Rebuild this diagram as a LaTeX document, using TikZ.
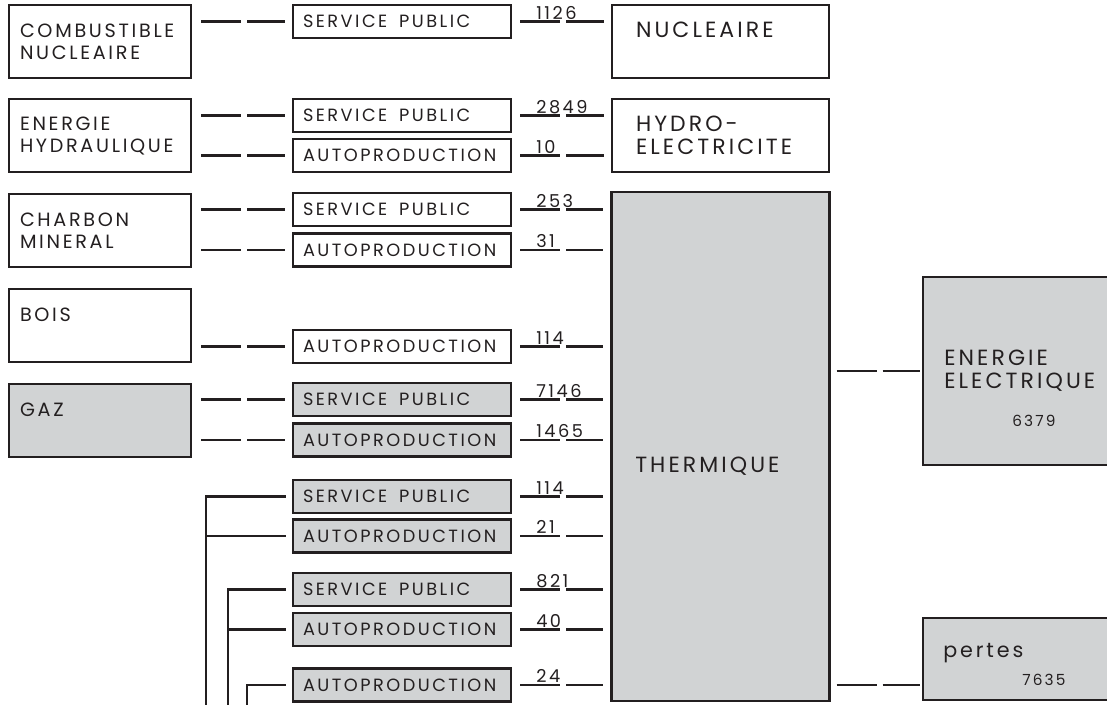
\documentclass[tikz,border=0pt]{standalone}
\usepackage{fontspec}
\setmainfont{Poppins}[LetterSpace=14]
\definecolor{boxgray}{HTML}{D1D3D4}
\definecolor{ink}{HTML}{231F20}
\newcommand\fmid{\fontsize{13.3}{15}\selectfont}
\newcommand\fleft{\fontsize{14.4}{16.5}\selectfont}
\newcommand\fright{\fontsize{16.5}{17.25}\selectfont}
\newcommand\fpert{\fontsize{15.5}{17.25}\selectfont}
\newcommand\fsmall{\fontsize{11.5}{12}\selectfont}
\tikzset{
  bx/.style={draw=ink, line width=1.6pt, rectangle, inner ysep=0pt, text=ink, align=left},
  srcbox/.style={bx, fill=white, minimum width=136.5pt, minimum height=54.75pt, inner xsep=8.25pt, text width=120pt, font=\fleft},
  midbox/.style={bx, fill=white, minimum width=163.5pt, minimum height=24.75pt, inner xsep=7.5pt, text width=148.5pt, font=\fmid},
  resbox/.style={bx, fill=white, minimum width=162.75pt, minimum height=54.75pt, inner xsep=18pt, text width=126.75pt, font=\fright},
  grey/.style={fill=boxgray},
  dcon/.style={draw=ink, line width=1.6pt, dash pattern=on 30pt off 4.5pt},
  wire/.style={draw=ink, line width=1.6pt},
  num/.style={anchor=base west, inner sep=0pt, text=ink, font=\fmid},
  lbl/.style={inner sep=0pt, text=ink, align=left},
}
\begin{document}
\begin{tikzpicture}[x=0.75pt,y=-0.75pt]
\useasboundingbox (0,0) rectangle (1107,704);
\clip (0,0) rectangle (1107,704);

% source boxes
\node[srcbox] (cnuc) at (100,41.5) {COMBUSTIBLE\\NUCLEAIRE};
\node[srcbox] (ehyd) at (100,135.5) {ENERGIE\\HYDRAULIQUE};
\node[srcbox] (cmin) at (100,230.5) {CHARBON\\MINERAL};
\node[srcbox] (bois) at (100,325.5) {BOIS\\\phantom{X}};
\node[srcbox, grey] (gaz) at (100,420.5) {GAZ\\\phantom{X}};

% middle boxes
\node[midbox] (m1) at (402,21.5) {SERVICE~~PUBLIC};
\node[midbox] (m2) at (402,115.5) {SERVICE~~PUBLIC};
\node[midbox] (m3) at (402,155.5) {AUTOPRODUCTION};
\node[midbox] (m4) at (402,209.5) {SERVICE~~PUBLIC};
\node[midbox] (m5) at (402,250) {AUTOPRODUCTION};
\node[midbox] (m6) at (402,346.5) {AUTOPRODUCTION};
\node[midbox, grey] (m7) at (402,399.5) {SERVICE~~PUBLIC};
\node[midbox, grey] (m8) at (402,440) {AUTOPRODUCTION};
\node[midbox, grey] (m9) at (402,496.5) {SERVICE~~PUBLIC};
\node[midbox, grey] (m10) at (402,536) {AUTOPRODUCTION};
\node[midbox, grey] (m11) at (402,589.5) {SERVICE~~PUBLIC};
\node[midbox, grey] (m12) at (402,629.5) {AUTOPRODUCTION};
\node[midbox, grey] (m13) at (402,685) {AUTOPRODUCTION};

% result boxes
\node[resbox] (nuc) at (720.5,41.5) {NUCLEAIRE\\\phantom{X}};
\node[resbox] (hyd) at (720.5,135.5) {HYDRO-\\ELECTRICITE};
\node[bx, grey, minimum width=163.5pt, minimum height=381.75pt] (therm) at (720.5,446.5) {};
\node[lbl, anchor=west, font=\fright] (thermtxt) at (635,466) {THERMIQUE};
\node[bx, grey, minimum width=155.25pt, minimum height=141pt] (elec) at (1026.5,371) {};
\node[lbl, anchor=west, font=\fright] (electxt) at (944,370.5) {ENERGIE\\ELECTRIQUE};
\node[lbl, anchor=base west, font=\fsmall] (elecnum) at (1012,426) {6379};
\node[bx, grey, minimum width=155.25pt, minimum height=61.5pt] (pertes) at (1026.5,659) {};
\node[lbl, anchor=base west, font=\fpert] (pertestxt) at (943,657) {pertes};
\node[lbl, anchor=base west, font=\fsmall] (pertesnum) at (1022,685) {7635};

% source -> middle dashed connectors
\foreach \s/\m in {cnuc/m1, ehyd/m2, ehyd/m3, cmin/m4, cmin/m5, bois/m6, gaz/m7, gaz/m8}
  \draw[dcon, shorten <=6.75pt, shorten >=5.25pt] (\s.east |- \m.west) -- (\m.west);

% middle -> result connectors
\foreach \m/\r in {m1/nuc, m2/hyd, m3/hyd, m4/therm, m5/therm, m6/therm, m7/therm, m8/therm, m9/therm, m10/therm, m11/therm, m12/therm, m13/therm}
  \draw[dcon, shorten <=6pt, shorten >=5.25pt] (\m.east) -- (\m.east -| \r.west);

% numbers
\foreach \m/\v in {m1/1126, m2/2849, m3/10, m4/253, m5/31, m6/114, m7/7146, m8/1465, m9/114, m10/21, m11/821, m12/40, m13/24}
  \node[num] (n\m) at ([shift={(24,-2.5)}]\m.east) {\v};

% thermique -> outputs
\draw[dcon, shorten <=4.5pt, shorten >=1.5pt] (therm.east |- elec.west) -- (elec.west);
\draw[dcon, shorten <=4.5pt, shorten >=1.5pt] (therm.east |- m13.east) -- (pertes.west |- m13.east);

% bottom-left feeder lines
\coordinate (src1) at (206,730);
\coordinate (src2) at (228,730);
\coordinate (src3) at (247,730);
\draw[wire, shorten >=4.5pt] (src1) |- (m9.west);
\draw[wire, shorten >=4.5pt] (src1 |- m10.west) -- (m10.west);
\draw[wire, shorten >=4.5pt] (src2) |- (m11.west);
\draw[wire, shorten >=4.5pt] (src2 |- m12.west) -- (m12.west);
\draw[wire, shorten >=4.5pt] (src3) |- (m13.west);
\end{tikzpicture}
\end{document}
